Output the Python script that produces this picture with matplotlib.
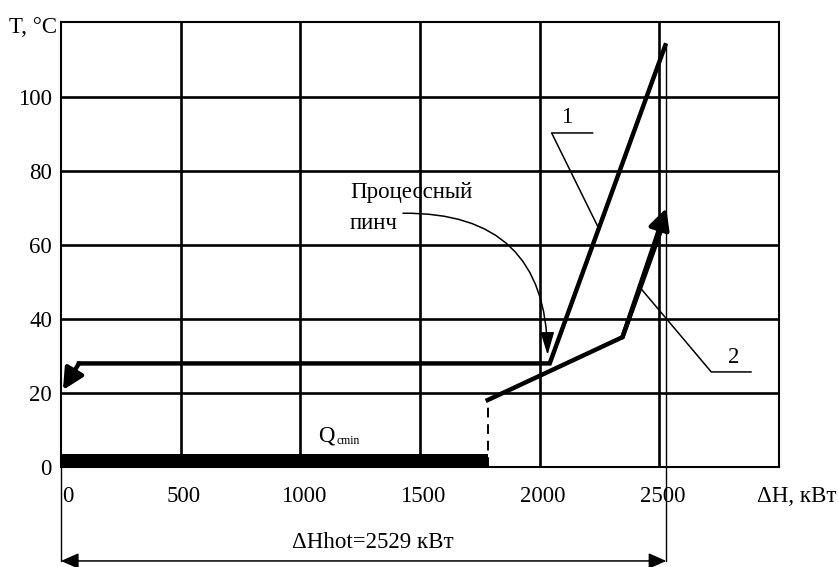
import matplotlib
matplotlib.use("Agg")
import matplotlib.pyplot as plt
from matplotlib.transforms import ScaledTranslation

plt.rcParams['font.family'] = ['Liberation Serif', 'DejaVu Serif']

# composite curves, dH in kW, T in C
hot_h = [2525, 2042, 75]
hot_t = [114, 28, 28]
hot_tip = (8, 20.8)
cold_h = [1783, 2346, 2518]
cold_t = [18.1, 35.1, 66]
cold_tip = (2529, 70)

q_cmin = 1783          # cold utility
dh_hot = 2529          # hot utility
pinch_h, pinch_t = 2033, 30.3

x_ticks = [0, 500, 1000, 1500, 2000, 2500]
y_ticks = [0, 20, 40, 60, 80, 100]

FS = 16.5

fig = plt.figure(figsize=(8.39, 5.67), dpi=100)
ax = fig.add_axes([61 / 839, 1 - 467 / 567, 718 / 839, 445 / 567])
ax.set_xlim(0, 3000)
ax.set_ylim(0, 120.3)

for s in ax.spines.values():
    s.set_linewidth(1.5)

for x in x_ticks[1:]:
    ax.axvline(x, color='black', lw=1.9, zorder=1)
for y in y_ticks[1:]:
    ax.axhline(y, color='black', lw=1.9, zorder=1)

ax.set_xticks(x_ticks)
ax.set_xticklabels([str(v) for v in x_ticks], fontsize=FS)
ax.set_yticks(y_ticks)
ax.set_yticklabels([str(v) for v in y_ticks], fontsize=FS)
ax.tick_params(axis='x', length=0, pad=14)
ax.tick_params(axis='y', length=0, pad=6.5)
for i, lbl in enumerate(ax.get_xticklabels()):
    dx = 7 if i == 0 else 3
    lbl.set_transform(lbl.get_transform() + ScaledTranslation(dx / 100, 0, fig.dpi_scale_trans))

# cold utility bar + dashed step
ax.fill_between([0, q_cmin], 0, 3.4, color='black', lw=0, zorder=3)
ax.plot([q_cmin, q_cmin], [0, cold_t[0]], color='black', lw=1.4, dashes=(5, 3.5), zorder=3)

# hot composite (1)
ax.plot(hot_h, hot_t, color='black', lw=3.2, solid_joinstyle='miter', zorder=4)
ax.annotate('', xy=hot_tip, xytext=(hot_h[-1], hot_t[-1]),
            arrowprops=dict(arrowstyle='-|>,head_length=0.7,head_width=0.35', lw=3.2,
                            color='black', shrinkA=0, shrinkB=0, mutation_scale=18), zorder=4)

# cold composite (2)
ax.plot(cold_h, cold_t, color='black', lw=3.2, solid_joinstyle='miter', zorder=4)
ax.annotate('', xy=cold_tip, xytext=(cold_h[-2], cold_t[-2]),
            arrowprops=dict(arrowstyle='-|>,head_length=0.7,head_width=0.35', lw=3.2,
                            color='black', shrinkA=0, shrinkB=0, mutation_scale=18), zorder=4)

# thin extension lines and dH hot dimension
ax.plot([0, 0], [0, -25.4], color='black', lw=1, clip_on=False)
ax.plot([dh_hot, dh_hot], [114, -25.4], color='black', lw=1, clip_on=False)
ax.annotate('', xy=(dh_hot, -25.4), xytext=(0, -25.4), annotation_clip=False,
            arrowprops=dict(arrowstyle='<|-|>,head_length=0.9,head_width=0.4', lw=1.1,
                            color='black', shrinkA=0, shrinkB=0, mutation_scale=12))
ax.text(1304, -20.5, 'ΔHhot=2529 кВт', fontsize=FS, ha='center', va='center', clip_on=False)

# pinch annotation
ax.text(1208, 74.3, 'Процессный', fontsize=FS, ha='left', va='center')
ax.text(1208, 65.9, 'пинч', fontsize=FS, ha='left', va='center')
ax.annotate('', xy=(pinch_h, pinch_t), xytext=(1429, 68.6),
            arrowprops=dict(arrowstyle='-|>,head_length=1.0,head_width=0.3', lw=1.1,
                            color='black', shrinkA=0, shrinkB=0, mutation_scale=14,
                            connectionstyle='arc3,rad=-0.5'))

# curve leaders
ax.plot([2221, 2050, 2246], [90.3, 90.3, 64.6], color='black', lw=1.1)
ax.text(2112, 94.6, '1', fontsize=FS, ha='center', va='center')
ax.plot([2421, 2717, 2883], [48.4, 25.7, 25.7], color='black', lw=1.1)
ax.text(2812, 29.5, '2', fontsize=FS, ha='center', va='center')

# Q cmin
ax.text(1108, 8.4, 'Q', fontsize=FS, ha='center', va='center')
ax.text(1150, 7.0, 'cmin', fontsize=8.5, ha='left', va='center')

# axis titles
ax.text(-16.7, 118.9, 'T, °C', fontsize=FS, ha='right', va='center', clip_on=False)
ax.text(2908, -8.1, 'ΔH, кВт', fontsize=FS, ha='left', va='center', clip_on=False)

fig.savefig('out.png', dpi=100)
